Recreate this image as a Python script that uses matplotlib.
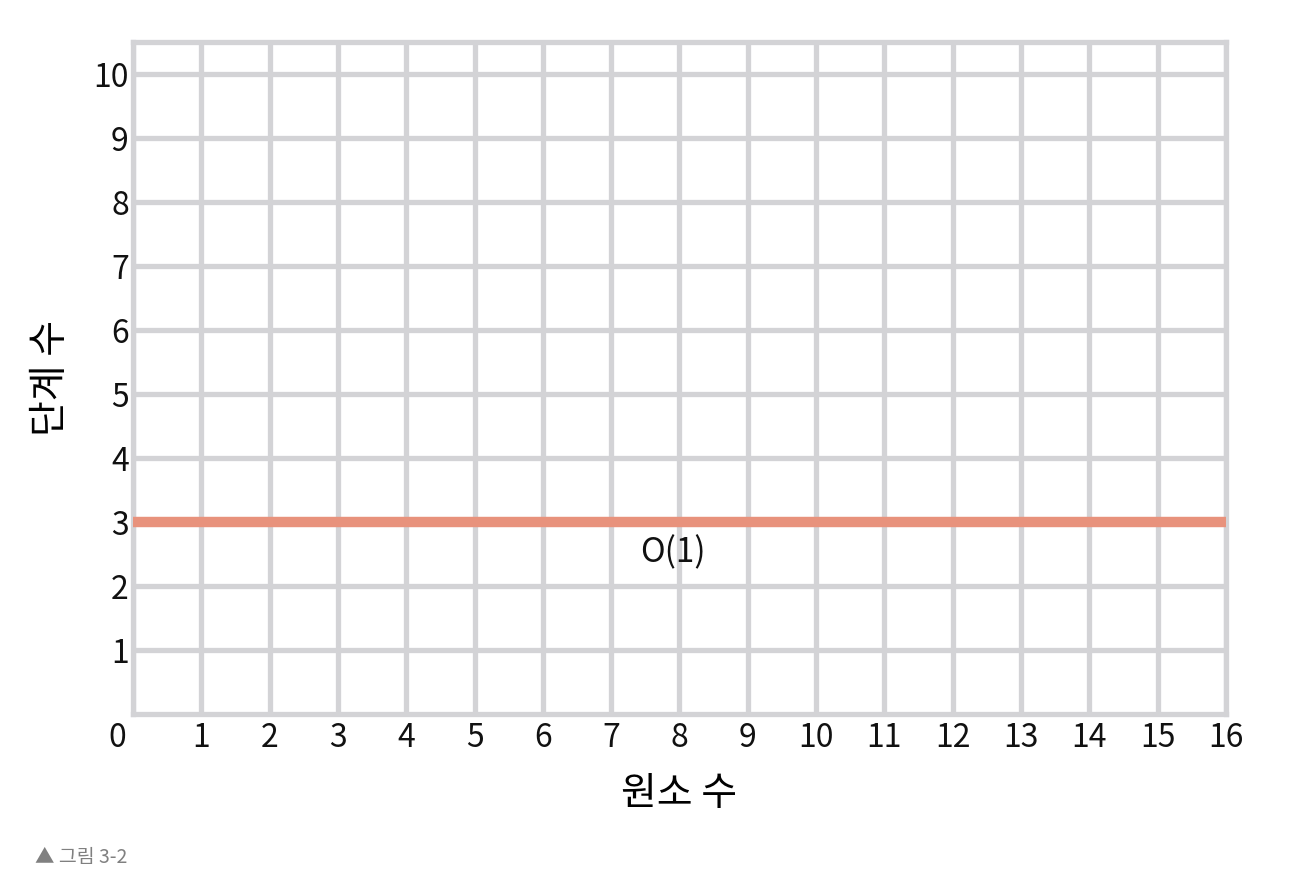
import numpy as np
import matplotlib.pyplot as plt

plt.rcParams['font.family'] = ['Noto Sans CJK KR', 'DejaVu Sans']

# data
x_ticks = list(range(0, 17))
y_ticks = list(range(1, 11))
line_x = [0, 16]
line_y = [3, 3]
line_label = "O(1)"
x_title = "원소 수"
y_title = "단계 수"
caption = "▲ 그림 3-2"

grid_col = '#d3d3d6'
line_col = '#e8927c'
txt_col = '#111111'

fig = plt.figure(figsize=(13.14, 8.8), dpi=100)
ax = fig.add_axes([0.1012, 0.1886, 0.8318, 0.7634])

ax.set_xlim(0, 16)
ax.set_ylim(0, 10.5)
ax.set_xticks(x_ticks)
ax.set_yticks(y_ticks)
ax.set_xticklabels([str(v) if v else '' for v in x_ticks])
ax.grid(True, color=grid_col, linewidth=3.8)
ax.set_axisbelow(True)
for s in ax.spines.values():
    s.set_color(grid_col)
    s.set_linewidth(3.8)
ax.tick_params(length=0, labelsize=23, colors=txt_col)
ax.tick_params(axis='x', pad=6)
ax.tick_params(axis='y', pad=3)

# zero label sits left of the corner
ax.annotate('0', xy=(0, 0), xycoords='data', xytext=(-11, -6),
            textcoords='offset points', ha='center', va='top',
            fontsize=23, color=txt_col, annotation_clip=False)

ax.plot(line_x, line_y, color=line_col, linewidth=7.5, solid_capstyle='butt', zorder=3)
ax.text(7.9, 2.52, line_label, ha='center', va='center', fontsize=24, color=txt_col)

ax.set_xlabel(x_title, fontsize=28, labelpad=14)
ax.set_ylabel(y_title, fontsize=28, labelpad=16)

fig.text(0.027, 0.026, caption, fontsize=14, color='#808080', ha='left', va='center')

fig.savefig('out.png', dpi=100)
